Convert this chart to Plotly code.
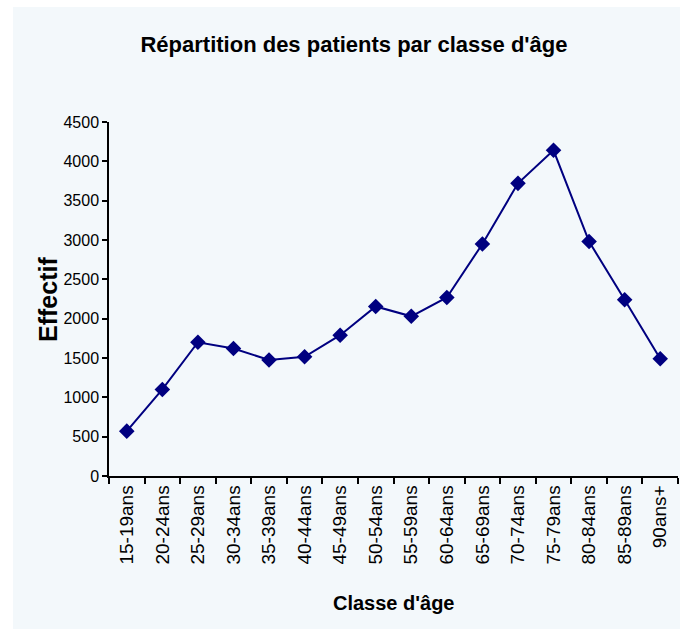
import plotly.graph_objects as go

categories = ["15-19ans", "20-24ans", "25-29ans", "30-34ans", "35-39ans", "40-44ans",
              "45-49ans", "50-54ans", "55-59ans", "60-64ans", "65-69ans", "70-74ans",
              "75-79ans", "80-84ans", "85-89ans", "90ans+"]
effectif = [570, 1100, 1700, 1620, 1475, 1515, 1790, 2155, 2030, 2270, 2950, 3720,
            4140, 2980, 2240, 1490]
y_ticks = [0, 500, 1000, 1500, 2000, 2500, 3000, 3500, 4000, 4500]

W, H = 680, 635
L, R, T, B = 109, 2, 122, 159
pw, ph = W - L - R, H - T - B

def px_x(x):
    return (x - L) / pw

def px_y(y):
    return (H - B - y) / ph

FONT = "Liberation Sans, Arial, sans-serif"
NAVY = "#000080"
PANEL = "#F3F8FB"

fig = go.Figure(go.Scatter(
    x=categories, y=effectif, mode="lines+markers",
    line=dict(color=NAVY, width=2),
    marker=dict(symbol="diamond", size=12, color=NAVY),
    showlegend=False,
))

fig.update_layout(
    width=W, height=H,
    margin=dict(l=L, r=R, t=T, b=B, autoexpand=False),
    paper_bgcolor="white",
    plot_bgcolor="rgba(0,0,0,0)",
    font=dict(family=FONT, color="black"),
    title=dict(text="<b>Répartition des patients par classe d'âge</b>",
               font=dict(family=FONT, size=22, color="black"),
               x=354 / W, xanchor="center", xref="container",
               y=1 - 44 / H, yanchor="middle", yref="container"),
    xaxis=dict(
        type="category", tickangle=-90, tickson="boundaries",
        ticks="outside", ticklen=6, tickwidth=1.5, tickcolor="black",
        showline=True, linecolor="black", linewidth=1.5,
        showgrid=False, zeroline=False,
        tickfont=dict(size=19, family=FONT, color="black"),
        range=[-0.5, len(categories) - 0.5],
    ),
    yaxis=dict(
        range=[0, 4500], tickvals=y_ticks, ticktext=[str(v) for v in y_ticks],
        ticks="outside", ticklen=5, tickwidth=1.5, tickcolor="black",
        showline=True, linecolor="black", linewidth=1.5,
        showgrid=False, zeroline=False,
        tickfont=dict(size=16, family=FONT, color="black"),
    ),
    shapes=[dict(type="rect", xref="paper", yref="paper", layer="below",
                 x0=px_x(13), x1=px_x(690), y0=px_y(7), y1=px_y(629),
                 fillcolor=PANEL, line=dict(width=0))],
    annotations=[
        dict(text="<b>Classe d'âge</b>", xref="paper", yref="paper",
             x=0.5, y=px_y(603), xanchor="center", yanchor="middle", showarrow=False,
             font=dict(family=FONT, size=20, color="black")),
        dict(text="<b>Effectif</b>", xref="paper", yref="paper", textangle=-90,
             x=px_x(48), y=px_y(300), xanchor="center", yanchor="middle", showarrow=False,
             font=dict(family=FONT, size=25, color="black")),
    ],
)

fig.write_html(
    "out.html",
    config={"displayModeBar": False},
    post_script="document.body.style.margin='0';document.body.style.overflow='hidden';",
)
